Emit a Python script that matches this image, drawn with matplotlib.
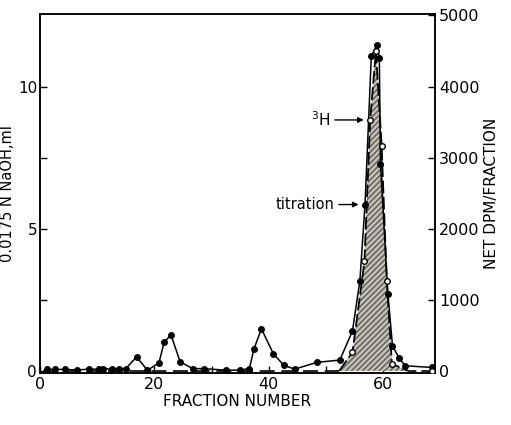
import numpy as np
import matplotlib
matplotlib.use("Agg")
from matplotlib import pyplot as plt

# titration: fraction number vs 0.0175 N NaOH (ml)
tit_frac = [1.2, 2.6, 4.4, 6.5, 8.5, 10.3, 11.1, 12.6, 13.8, 15.0, 16.9, 18.8, 20.8,
            21.7, 22.9, 24.5, 26.7, 28.7, 32.6, 34.9, 36.6, 37.4, 38.7, 40.8, 42.6,
            44.5, 48.4, 52.4, 54.6, 55.9, 56.8, 57.9, 58.9, 59.3, 59.5, 60.8, 61.6,
            62.7, 63.8, 68.5]
tit_ml = [0.05, 0.05, 0.05, 0.03, 0.06, 0.06, 0.06, 0.08, 0.08, 0.08, 0.49, 0.02, 0.28,
          1.0, 1.27, 0.32, 0.08, 0.08, 0.02, 0.03, 0.08, 0.77, 1.48, 0.6, 0.2,
          0.06, 0.3, 0.38, 1.4, 3.16, 5.85, 11.07, 11.46, 11.0, 7.27, 2.7, 0.88,
          0.47, 0.18, 0.12]

# 3H: fraction number vs net DPM/fraction
h3_frac = [52.3, 54.6, 56.7, 57.7, 58.7, 59.7, 60.6, 61.5, 64.3]
h3_dpm = [0, 260, 1540, 3530, 4500, 3170, 1260, 100, 0]
h3_open = [1, 2, 3, 4, 5, 6, 7]
h3_base_frac = [0.5, 52.3, 64.3, 68.5]
h3_base_dpm = [0, 0, 0, 0]

fig = plt.figure(figsize=(5.11, 4.25), dpi=100)
ax = fig.add_axes([0.078, 0.122, 0.773, 0.845])
ax2 = ax.twinx()

ax.set_xlim(0, 69)
ax.set_ylim(-0.08, 12.55)
ax2.set_ylim(-0.08 * 400, 12.55 * 400)

# 3H peak, hatched area
ax2.fill_between(h3_frac, h3_dpm, 0, facecolor='#c4c0b4', edgecolor='#5a5a5a',
                 hatch='//////', linewidth=0, zorder=1)
ax2.plot(h3_frac, h3_dpm, color='black', lw=1.3, ls=(0, (7, 2)), zorder=2)
ax2.plot(h3_base_frac[:2], h3_base_dpm[:2], color='black', lw=1.2, ls=(0, (9, 4)), zorder=2)
ax2.plot(h3_base_frac[2:], h3_base_dpm[2:], color='black', lw=1.2, ls=(0, (5, 3)), zorder=2)
ax2.plot([h3_frac[i] for i in h3_open] + [68.5], [h3_dpm[i] for i in h3_open] + [0],
         ls='none', marker='o', ms=4, mfc='white', mec='black', mew=1.0, zorder=4)

# titration curve
ax2.plot(np.array(tit_frac), np.array(tit_ml) * 400, color='black', lw=1.1,
         marker='o', ms=4, zorder=3)

# annotations
ax2.annotate('$^{3}$H', xy=(57.3, 3530), xytext=(50.8, 3530), fontsize=11,
             va='center', ha='right',
             arrowprops=dict(arrowstyle='-|>', color='black', lw=1.0,
                             shrinkA=1, shrinkB=3, mutation_scale=8))
ax2.annotate('titration', xy=(56.4, 5.85 * 400), xytext=(51.5, 5.85 * 400), fontsize=10.5,
             va='center', ha='right',
             arrowprops=dict(arrowstyle='-|>', color='black', lw=1.0,
                             shrinkA=1, shrinkB=3, mutation_scale=8))

ax.set_xticks([0, 20, 40, 60])
ax.set_xticks([10, 30, 50], minor=True)
ax.set_yticks([0, 5, 10])
ax.set_yticks([2.5, 7.5], minor=True)
ax2.set_yticks([0, 1000, 2000, 3000, 4000, 5000])
for a in (ax, ax2):
    a.tick_params(which='both', direction='in', length=5, width=1, labelsize=11.5, pad=3)
    for s in a.spines.values():
        s.set_linewidth(1.1)
ax.tick_params(axis='y', labelsize=11, pad=2)

ax.set_xlabel('FRACTION NUMBER', fontsize=11, labelpad=1)
ax.set_ylabel('0.0175 N NaOH,ml', fontsize=10.5, labelpad=2)
ax2.set_ylabel('NET DPM/FRACTION', fontsize=11, labelpad=3)

fig.savefig('out.png', dpi=100)
